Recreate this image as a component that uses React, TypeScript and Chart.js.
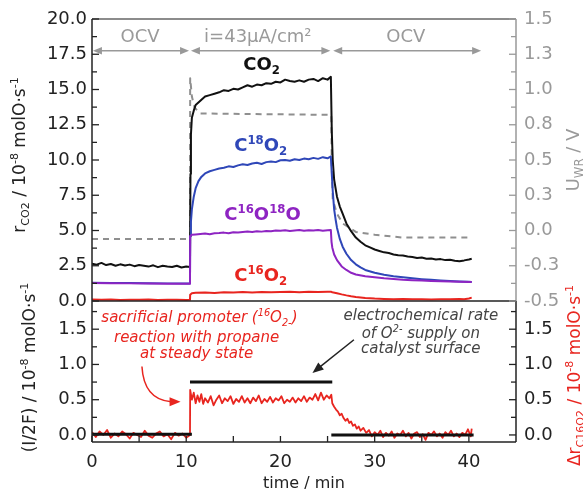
import React, { useEffect, useRef } from 'react';
import { Chart, registerables } from 'chart.js';

Chart.register(...registerables);

const FAMILY = '"DejaVu Sans", "Liberation Sans", sans-serif';

const BLACK = '#111111';
const BLUE = '#2f47b8';
const PURPLE = '#8e24c2';
const RED = '#e8251f';
const GRAY = '#8f8f8f';
const GRAY_TXT = '#9a9a9a';
const NOTE_TXT = '#444444';

// ---- axis ticks ----
const X_TICKS = [0, 10, 20, 30, 40];
const X_MINOR = [5, 15, 25, 35];
const TOP_L_TICKS = [0, 2.5, 5, 7.5, 10, 12.5, 15, 17.5, 20];
const TOP_L_MINOR = [1.25, 3.75, 6.25, 8.75, 11.25, 13.75, 16.25, 18.75];
const TOP_R_TICKS = [-0.5, -0.25, 0, 0.25, 0.5, 0.75, 1, 1.25, 1.5];
const TOP_R_MINOR = [-0.375, -0.125, 0.125, 0.375, 0.625, 0.875, 1.125, 1.375];
const BOT_TICKS = [0, 0.5, 1, 1.5];
const BOT_MINOR = [0.25, 0.75, 1.25, 1.75];

// ---- phases (time spans, min) ----
const PHASE_SPANS: [number, number][] = [[0.1, 10.3], [10.5, 25.3], [25.6, 41.3]];
const PHASE_LABELS: [string, number][] = [['OCV', 5.1], ['i=43µA/cm²', 17.6], ['OCV', 33.3]];

// ---- series: [time (min), value] ----
const R_CO2: [number, number][] = [
  [0, 2.65], [0.5, 2.58], [1, 2.7], [1.5, 2.55], [2, 2.62], [2.5, 2.5], [3, 2.6], [3.5, 2.52], [4, 2.58], [4.5, 2.47],
  [5, 2.55], [5.5, 2.5], [6, 2.44], [6.5, 2.53], [7, 2.4], [7.5, 2.5], [8, 2.45], [8.5, 2.41], [9, 2.5], [9.5, 2.38],
  [10, 2.44], [10.4, 2.42],
  [10.45, 9.0], [10.5, 11.8], [10.6, 13.0], [10.8, 13.5], [11, 13.9], [11.5, 14.2], [12, 14.5], [12.5, 14.6], [13, 14.7],
  [13.5, 14.8], [14, 14.95], [14.5, 14.9], [15, 15.05], [15.5, 15.0], [16, 15.15], [16.5, 15.3], [17, 15.2], [17.5, 15.35],
  [18, 15.3], [18.5, 15.45], [19, 15.4], [19.5, 15.55], [20, 15.5], [20.5, 15.7], [21, 15.6], [21.5, 15.55], [22, 15.65],
  [22.5, 15.55], [23, 15.7], [23.5, 15.75], [24, 15.6], [24.5, 15.8], [25, 15.7], [25.35, 15.9],
  [25.45, 12.0], [25.55, 10.0], [25.7, 8.6], [26, 7.4], [26.3, 6.7], [26.6, 6.2], [27, 5.5], [27.5, 4.95], [28, 4.5],
  [28.5, 4.2], [29, 3.95], [29.5, 3.8], [30, 3.65], [30.5, 3.55], [31, 3.45], [31.5, 3.4], [32, 3.3], [32.5, 3.25],
  [33, 3.22], [33.5, 3.15], [34, 3.12], [34.5, 3.05], [35, 3.08], [35.5, 3.0], [36, 3.02], [36.5, 2.95], [37, 2.97],
  [37.5, 2.9], [38, 2.92], [38.5, 2.85], [39, 2.82], [39.5, 2.88], [40, 2.95], [40.3, 3.0],
];

const R_C18O2: [number, number][] = [
  [0, 1.3], [2, 1.28], [4, 1.27], [6, 1.26], [8, 1.25], [10, 1.24], [10.4, 1.24],
  [10.42, 4.6], [10.5, 5.6], [10.6, 6.5], [10.8, 7.4], [11, 8.0], [11.3, 8.5], [11.6, 8.8], [12, 9.05],
  [12.5, 9.2], [13, 9.3], [13.5, 9.4], [14, 9.45], [14.5, 9.55], [15, 9.5], [15.5, 9.62], [16, 9.7], [16.5, 9.65],
  [17, 9.75], [17.5, 9.8], [18, 9.72], [18.5, 9.85], [19, 9.9], [19.5, 9.85], [20, 9.98], [20.5, 10.0], [21, 9.95],
  [21.5, 10.05], [22, 10.0], [22.5, 10.1], [23, 10.05], [23.5, 10.15], [24, 10.08], [24.5, 10.2], [25, 10.12], [25.35, 10.25],
  [25.45, 9.0], [25.55, 7.8], [25.7, 6.5], [25.85, 5.8], [26, 5.2], [26.3, 4.4], [26.6, 3.85], [27, 3.35], [27.5, 2.9],
  [28, 2.6], [28.5, 2.38], [29, 2.2], [30, 2.0], [31, 1.86], [32, 1.76], [33, 1.68], [34, 1.61], [35, 1.55], [36, 1.5],
  [37, 1.46], [38, 1.42], [39, 1.39], [40, 1.36], [40.3, 1.35],
];

const R_C16O18O: [number, number][] = [
  [0, 1.27], [2, 1.26], [4, 1.25], [6, 1.24], [8, 1.23], [10, 1.22], [10.4, 1.22],
  [10.42, 4.6], [10.6, 4.7], [11, 4.72], [11.5, 4.75], [12, 4.78], [12.5, 4.74], [13, 4.8], [13.5, 4.82], [14, 4.85],
  [14.5, 4.8], [15, 4.88], [15.5, 4.86], [16, 4.9], [16.5, 4.93], [17, 4.9], [17.5, 4.95], [18, 4.92], [18.5, 4.97],
  [19, 4.95], [19.5, 5.0], [20, 4.98], [20.5, 5.02], [21, 4.97], [21.5, 5.0], [22, 5.03], [22.5, 4.98], [23, 5.02],
  [23.5, 5.0], [24, 5.04], [24.5, 4.99], [25, 5.02], [25.35, 5.03],
  [25.42, 4.2], [25.5, 3.8], [25.7, 3.3], [26, 2.9], [26.5, 2.45], [27, 2.2], [27.5, 2.0], [28, 1.88], [29, 1.75],
  [30, 1.68], [31, 1.61], [32, 1.56], [33, 1.51], [34, 1.48], [35, 1.45], [36, 1.42], [37, 1.4], [38, 1.38], [39, 1.36],
  [40, 1.35], [40.3, 1.34],
];

const R_C16O2: [number, number][] = [
  [0, 0.1], [1, 0.08], [2, 0.1], [3, 0.07], [4, 0.09], [5, 0.08], [6, 0.1], [7, 0.07], [8, 0.08], [9, 0.09], [10, 0.07], [10.4, 0.08],
  [10.42, 0.45], [10.6, 0.55], [11, 0.58], [12, 0.6], [13, 0.57], [14, 0.62], [15, 0.6], [16, 0.63], [17, 0.61], [18, 0.64],
  [19, 0.62], [20, 0.63], [21, 0.65], [22, 0.62], [23, 0.66], [24, 0.64], [25, 0.66], [25.35, 0.66],
  [25.5, 0.62], [26, 0.55], [26.5, 0.47], [27, 0.4], [27.5, 0.34], [28, 0.29], [28.5, 0.25], [29, 0.21], [30, 0.17],
  [31, 0.15], [32, 0.13], [33, 0.14], [34, 0.12], [35, 0.13], [36, 0.11], [37, 0.13], [38, 0.12], [39, 0.14], [39.5, 0.13],
  [40, 0.18], [40.3, 0.24],
];

// potential of working electrode (V), right axis of top panel
const U_WR: [number, number][] = [
  [0, -0.06], [10.4, -0.06], [10.42, 1.08], [10.6, 0.95], [10.9, 0.87], [11.5, 0.83], [25.4, 0.82], [25.45, 0.45],
  [25.55, 0.22], [26, 0.12], [26.6, 0.05], [28, -0.01], [30, -0.03], [33, -0.05], [40.3, -0.05],
];

// I/2F (black, bottom panel); null = gap
const I2F_LINE: [number, number | null][] = [
  [0, 0.01], [10.6, 0.01], [10.6, null], [10.4, 0.75], [25.5, 0.75], [25.5, null], [25.4, 0.0], [40.5, 0.0],
];

// delta r C16O2 (red, bottom panel)
const DR_C16O2: [number, number][] = [
  [0, 0.04], [0.4, -0.03], [0.8, 0.05], [1.2, 0.0], [1.6, 0.07], [2.0, -0.04], [2.4, 0.02], [2.8, -0.02], [3.2, 0.05],
  [3.6, 0.01], [4.0, -0.05], [4.4, 0.03], [4.8, 0.0], [5.2, -0.03], [5.6, 0.06], [6.0, -0.01], [6.4, -0.04], [6.8, 0.02],
  [7.2, 0.05], [7.6, -0.02], [8.0, 0.01], [8.4, -0.06], [8.8, 0.03], [9.2, -0.01], [9.6, 0.02], [10.0, -0.04], [10.4, 0.0],
  [10.42, 0.64], [10.6, 0.5], [10.8, 0.6], [11.0, 0.45], [11.2, 0.56], [11.4, 0.47], [11.6, 0.58], [11.8, 0.44], [12.0, 0.52],
  [12.3, 0.46], [12.6, 0.55], [12.9, 0.42], [13.2, 0.5], [13.5, 0.56], [13.8, 0.45], [14.1, 0.52], [14.4, 0.48], [14.7, 0.55],
  [15.0, 0.44], [15.3, 0.51], [15.6, 0.47], [15.9, 0.55], [16.2, 0.46], [16.5, 0.52], [16.8, 0.45], [17.1, 0.53], [17.4, 0.48],
  [17.7, 0.56], [18.0, 0.45], [18.3, 0.51], [18.6, 0.47], [18.9, 0.54], [19.2, 0.46], [19.5, 0.52], [19.8, 0.49], [20.1, 0.55],
  [20.4, 0.45], [20.7, 0.5], [21.0, 0.47], [21.3, 0.53], [21.6, 0.46], [21.9, 0.52], [22.2, 0.48], [22.5, 0.55], [22.8, 0.47],
  [23.1, 0.53], [23.4, 0.5], [23.7, 0.58], [24.0, 0.49], [24.3, 0.6], [24.6, 0.5], [24.9, 0.56], [25.2, 0.52], [25.4, 0.57],
  [25.5, 0.45], [25.7, 0.4], [25.9, 0.36], [26.1, 0.33], [26.3, 0.28], [26.5, 0.3], [26.7, 0.24], [26.9, 0.2], [27.1, 0.23],
  [27.3, 0.17], [27.5, 0.19], [27.7, 0.13], [27.9, 0.15], [28.1, 0.09], [28.3, 0.12], [28.5, 0.06], [28.8, 0.1], [29.1, 0.03],
  [29.4, 0.07], [29.7, -0.02], [30.0, 0.04], [30.3, 0.0], [30.6, 0.06], [30.9, -0.03], [31.2, 0.03], [31.5, -0.01], [31.8, 0.05],
  [32.1, -0.04], [32.4, 0.02], [32.7, 0.0], [33.0, 0.06], [33.3, -0.02], [33.6, 0.03], [33.9, -0.05], [34.2, 0.02], [34.5, 0.04],
  [34.8, -0.03], [35.1, 0.01], [35.4, -0.07], [35.7, 0.03], [36.0, 0.0], [36.3, 0.05], [36.6, -0.02], [36.9, 0.02], [37.2, -0.04],
  [37.5, 0.04], [37.8, 0.0], [38.1, 0.06], [38.4, -0.02], [38.7, 0.02], [39.0, -0.03], [39.3, 0.03], [39.6, 0.0], [39.9, 0.08],
  [40.2, -0.02], [40.3, 0.09],
];

// ---- text annotations ----
type Seg = [string, number]; // 0 normal, 1 superscript, -1 subscript
const LBL_CO2: Seg[] = [['CO', 0], ['2', -1]];
const LBL_C18O2: Seg[] = [['C', 0], ['18', 1], ['O', 0], ['2', -1]];
const LBL_C16O18O: Seg[] = [['C', 0], ['16', 1], ['O', 0], ['18', 1], ['O', 0]];
const LBL_C16O2: Seg[] = [['C', 0], ['16', 1], ['O', 0], ['2', -1]];
const TITLE_TOP_L: Seg[] = [['r', 0], ['CO2', -1], [' / 10', 0], ['-8', 1], [' molO·s', 0], ['-1', 1]];
const TITLE_BOT_L: Seg[] = [['(I/2F) / 10', 0], ['-8', 1], [' molO·s', 0], ['-1', 1]];
const TITLE_TOP_R: Seg[] = [['U', 0], ['WR', -1], [' / V', 0]];
const TITLE_BOT_R: Seg[] = [['Δr', 0], ['C16O2', -1], [' / 10', 0], ['-8', 1], [' molO·s', 0], ['-1', 1]];
const NOTE_RED: Seg[][] = [
  [['sacrificial promoter (', 0], ['16', 1], ['O', 0], ['2-', -1], [')', 0]],
  [['reaction with propane', 0]],
  [['at steady state', 0]],
];
const NOTE_GRAY: Seg[][] = [
  [['electrochemical rate', 0]],
  [['of O', 0], ['2-', 1], [' supply on', 0]],
  [['catalyst surface', 0]],
];
// anchor positions in data units [time, value]
const NOTE_RED_POS: [number, number][] = [[11.4, 1.6], [11.1, 1.32], [11.1, 1.09]];
const NOTE_GRAY_POS: [number, number][] = [[34.9, 1.63], [34.9, 1.38], [34.9, 1.16]];

function drawRich(ctx: CanvasRenderingContext2D, segs: Seg[], x: number, y: number,
  o: { size: number; color: string; weight?: string; style?: string; rotate?: boolean; align?: string }) {
  const f = (s: number) => `${o.style || 'normal'} ${o.weight || 'normal'} ${s}px ${FAMILY}`;
  const small = o.size * 0.65;
  ctx.save();
  ctx.translate(x, y);
  if (o.rotate) ctx.rotate(-Math.PI / 2);
  let w = 0;
  for (const [t, k] of segs) { ctx.font = f(k ? small : o.size); w += ctx.measureText(t).width; }
  let cx = o.align === 'left' ? 0 : -w / 2;
  ctx.fillStyle = o.color;
  ctx.textBaseline = 'alphabetic';
  ctx.textAlign = 'left';
  for (const [t, k] of segs) {
    ctx.font = f(k ? small : o.size);
    const dy = k > 0 ? -o.size * 0.4 : k < 0 ? o.size * 0.24 : 0;
    ctx.fillText(t, cx, dy);
    cx += ctx.measureText(t).width;
  }
  ctx.restore();
}

function seg(ctx: CanvasRenderingContext2D, x1: number, y1: number, x2: number, y2: number, color: string, w = 1.5) {
  ctx.beginPath();
  ctx.strokeStyle = color;
  ctx.lineWidth = w;
  ctx.moveTo(x1, y1);
  ctx.lineTo(x2, y2);
  ctx.stroke();
}

function head(ctx: CanvasRenderingContext2D, tx: number, ty: number, ang: number, len: number, hw: number, color: string) {
  ctx.save();
  ctx.translate(tx, ty);
  ctx.rotate(ang);
  ctx.beginPath();
  ctx.moveTo(0, 0);
  ctx.lineTo(-len, -hw);
  ctx.lineTo(-len, hw);
  ctx.closePath();
  ctx.fillStyle = color;
  ctx.fill();
  ctx.restore();
}

const decorPlugin = {
  id: 'decor',
  afterDraw(chart: any) {
    const ctx: CanvasRenderingContext2D = chart.ctx;
    const xs = chart.scales.x, yT = chart.scales.yTop, yB = chart.scales.yBot, rT = chart.scales.rTop, rB = chart.scales.rBot;
    const L = xs.left, R = xs.right, T = yT.top, M = yT.bottom, B = yB.bottom;
    ctx.save();
    // frame
    seg(ctx, L, T, R, T, '#666');
    seg(ctx, R, T, R, M, '#999');
    seg(ctx, R, M, R, B, '#222');
    seg(ctx, L, T, L, B, '#222');
    seg(ctx, L, B, R, B, '#222');
    seg(ctx, L, M, R, M, '#222');
    // ticks
    for (const v of TOP_L_TICKS) { const y = yT.getPixelForValue(v); seg(ctx, L, y, L + 7, y, '#222', 1.3); }
    for (const v of TOP_L_MINOR) { const y = yT.getPixelForValue(v); seg(ctx, L, y, L + 5, y, '#222', 1.3); }
    for (const v of TOP_R_TICKS) { const y = rT.getPixelForValue(v); seg(ctx, R - 7, y, R, y, '#999', 1.3); }
    for (const v of TOP_R_MINOR) { const y = rT.getPixelForValue(v); seg(ctx, R - 5, y, R, y, '#999', 1.3); }
    for (const v of BOT_TICKS) { const y = yB.getPixelForValue(v); seg(ctx, L, y, L + 7, y, '#222', 1.3); }
    for (const v of BOT_MINOR) { const y = yB.getPixelForValue(v); seg(ctx, L, y, L + 5, y, '#222', 1.3); }
    for (const v of BOT_TICKS) { const y = rB.getPixelForValue(v); seg(ctx, R - 7, y, R, y, '#222', 1.3); }
    for (const v of BOT_MINOR) { const y = rB.getPixelForValue(v); seg(ctx, R - 5, y, R, y, '#222', 1.3); }
    for (const v of [...X_TICKS, ...X_MINOR]) { const x = xs.getPixelForValue(v); seg(ctx, x, B, x, B - 6, '#222', 1.3); }

    // phase arrows
    const ay = yT.getPixelForValue(17.75);
    for (const [a, b] of PHASE_SPANS) {
      const x1 = xs.getPixelForValue(a), x2 = xs.getPixelForValue(b);
      seg(ctx, x1 + 4, ay, x2 - 4, ay, '#999', 1.5);
      head(ctx, x1, ay, Math.PI, 9, 3.8, '#999');
      head(ctx, x2, ay, 0, 9, 3.8, '#999');
    }
    for (const [t, c] of PHASE_LABELS) {
      drawRich(ctx, [[t, 0]], xs.getPixelForValue(c), yT.getPixelForValue(18.4), { size: 18, color: GRAY_TXT });
    }

    // series labels
    drawRich(ctx, LBL_CO2, xs.getPixelForValue(18.0), yT.getPixelForValue(16.38), { size: 18, color: BLACK, weight: 'bold' });
    drawRich(ctx, LBL_C18O2, xs.getPixelForValue(17.9), yT.getPixelForValue(10.64), { size: 18, color: BLUE, weight: 'bold' });
    drawRich(ctx, LBL_C16O18O, xs.getPixelForValue(18.1), yT.getPixelForValue(5.74), { size: 18, color: PURPLE, weight: 'bold' });
    drawRich(ctx, LBL_C16O2, xs.getPixelForValue(17.9), yT.getPixelForValue(1.42), { size: 18, color: RED, weight: 'bold' });

    // notes
    NOTE_RED.forEach((s, i) => {
      const [t, v] = NOTE_RED_POS[i];
      drawRich(ctx, s, xs.getPixelForValue(t), yB.getPixelForValue(v), { size: 15, color: RED, style: 'italic' });
    });
    NOTE_GRAY.forEach((s, i) => {
      const [t, v] = NOTE_GRAY_POS[i];
      drawRich(ctx, s, xs.getPixelForValue(t), yB.getPixelForValue(v), { size: 15, color: NOTE_TXT, style: 'italic' });
    });

    // red curved arrow
    const p0x = xs.getPixelForValue(5.3), p0y = yB.getPixelForValue(0.97);
    const cpx = xs.getPixelForValue(5.5), cpy = yB.getPixelForValue(0.5);
    const p1x = xs.getPixelForValue(8.4), p1y = yB.getPixelForValue(0.47);
    ctx.beginPath();
    ctx.strokeStyle = RED;
    ctx.lineWidth = 1.5;
    ctx.moveTo(p0x, p0y);
    ctx.quadraticCurveTo(cpx, cpy, p1x, p1y);
    ctx.stroke();
    head(ctx, xs.getPixelForValue(9.4), p1y, 0, 11, 4.5, RED);

    // black straight arrow
    const b0x = xs.getPixelForValue(27.8), b0y = yB.getPixelForValue(1.35);
    const b1x = xs.getPixelForValue(23.4), b1y = yB.getPixelForValue(0.88);
    const ang = Math.atan2(b1y - b0y, b1x - b0x);
    seg(ctx, b0x, b0y, b1x - 8 * Math.cos(ang), b1y - 8 * Math.sin(ang), '#222', 1.5);
    head(ctx, b1x, b1y, ang, 11, 4.5, '#222');

    // axis titles
    drawRich(ctx, TITLE_TOP_L, yT.left + 25, (T + M) / 2 - 5, { size: 17, color: '#222', rotate: true });
    drawRich(ctx, TITLE_BOT_L, yB.left + 35, (M + B) / 2 - 4, { size: 17, color: '#222', rotate: true });
    drawRich(ctx, TITLE_TOP_R, rT.right - 4, (T + M) / 2, { size: 18, color: GRAY_TXT, rotate: true });
    drawRich(ctx, TITLE_BOT_R, rB.right - 3, (M + B) / 2 + 4, { size: 17, color: RED, rotate: true });
    drawRich(ctx, [['time / min', 0]], (L + R) / 2, B + 46, { size: 16, color: '#222' });
    ctx.restore();
  },
};

const tickFont = { family: FAMILY, size: 18 };
const setTicks = (vals: number[]) => (axis: any) => { axis.ticks = vals.map((v) => ({ value: v })); };
const fmt1 = (v: any) => Number(v).toFixed(1);
const yBase = (color: string, pad: number) => ({
  type: 'linear' as const,
  grid: { display: false, drawTicks: false },
  border: { display: false },
  ticks: { font: tickFont, color, padding: pad, autoSkip: false, callback: fmt1 },
});

export default function App() {
  const ref = useRef<HTMLCanvasElement>(null);
  useEffect(() => {
    document.body.style.margin = '0';
    const canvas = ref.current!;
    const ds = (data: [number, number | null][], axis: string, color: string, width: number, extra: any = {}) => ({
      data: data.map(([x, y]) => ({ x, y })),
      yAxisID: axis,
      borderColor: color,
      borderWidth: width,
      pointRadius: 0,
      fill: false,
      tension: 0,
      borderJoinStyle: 'round',
      ...extra,
    });
    const chart = new Chart(canvas, {
      type: 'line',
      data: {
        datasets: [
          ds(I2F_LINE, 'yBot', BLACK, 3),
          ds(DR_C16O2, 'yBot', RED, 1.8),
          ds(R_C16O2, 'yTop', RED, 2),
          ds(R_C16O18O, 'yTop', PURPLE, 2),
          ds(R_C18O2, 'yTop', BLUE, 2),
          ds(R_CO2, 'yTop', BLACK, 2),
          ds(U_WR, 'rTop', GRAY, 2, { borderDash: [6, 5] }),
        ] as any,
      },
      options: {
        animation: false,
        responsive: false,
        devicePixelRatio: 1,
        events: [],
        layout: { padding: { top: 19, left: 0, right: 0, bottom: 0 } },
        plugins: { legend: { display: false }, tooltip: { enabled: false } },
        scales: {
          x: {
            type: 'linear', min: 0, max: 45, position: 'bottom',
            grid: { display: false, drawTicks: false },
            border: { display: false },
            ticks: { font: tickFont, color: '#222', padding: 10, autoSkip: false, maxRotation: 0, callback: (v: any) => String(v) },
            afterBuildTicks: setTicks(X_TICKS),
            afterFit: (s: any) => { s.height = 49; },
          },
          yBot: {
            ...yBase('#222', 5), position: 'left', stack: 'L', stackWeight: 1, min: -0.1, max: 1.9,
            afterBuildTicks: setTicks(BOT_TICKS), afterFit: (s: any) => { s.width = 92; },
          },
          yTop: {
            ...yBase('#222', 5), position: 'left', stack: 'L', stackWeight: 2, min: 0, max: 20,
            afterBuildTicks: setTicks(TOP_L_TICKS), afterFit: (s: any) => { s.width = 92; },
          },
          rTop: {
            ...yBase('#999', 8), position: 'right', stack: 'R', stackWeight: 2, min: -0.5, max: 1.5,
            afterBuildTicks: setTicks(TOP_R_TICKS), afterFit: (s: any) => { s.width = 67; },
          },
          rBot: {
            ...yBase('#222', 8), position: 'right', stack: 'R', stackWeight: 1, min: -0.1, max: 1.9,
            afterBuildTicks: setTicks(BOT_TICKS), afterFit: (s: any) => { s.width = 67; },
          },
        } as any,
      },
      plugins: [decorPlugin],
    });
    return () => chart.destroy();
  }, []);
  return (
    <div style={{ position: 'fixed', left: 0, top: 0, width: 583, height: 491, background: '#fff' }}>
      <canvas ref={ref} width={583} height={491} style={{ display: 'block' }} />
    </div>
  );
}
